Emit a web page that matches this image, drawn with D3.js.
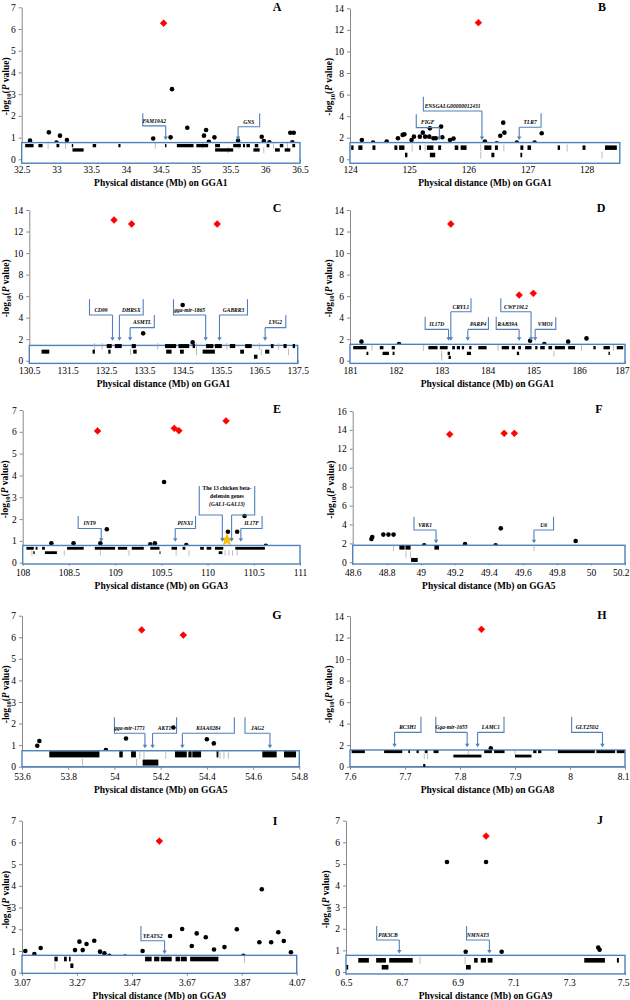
<!DOCTYPE html>
<html><head><meta charset="utf-8">
<script src="https://cdn.jsdelivr.net/npm/d3@7"></script>
<style>body{margin:0;background:#fff}</style>
</head><body>
<svg id="c" width="630" height="1000"></svg>
<script>
// ---------- DATA ----------
const yT7 = [0,1,2,3,4,5,6,7];
const yT14 = [0,2,4,6,8,10,12,14];
const yT16 = [0,2,4,6,8,10,12,14,16];

// Panel A (GGA1)
const aXT = ['32.5','33','33.5','34','34.5','35','35.5','36','36.5'];
const aRed = [[34.54,6.27]];
const aPts = [[32.62,0.86],[32.89,1.24],[33.05,1.09],[33.15,0.89],[33.0,0.77],[34.39,0.96],[34.66,3.23],[34.64,1.01],[34.88,1.45],[35.12,1.09],[35.15,1.35],[35.19,0.81],[35.27,1.01],[35.61,0.86],[35.95,1.04],[35.98,0.84],[36.06,0.78],[36.36,1.22],[36.41,1.22],[36.39,0.78]];
const aBlocks = [[0,32.55,32.67],[0,32.74,32.80],[0,33.00,33.04],[0,33.22,33.24],[0,33.52,33.57],[0,33.89,33.92],[0,34.56,34.58],[0,34.73,34.97],[0,35.01,35.18],[0,35.28,35.35],[0,35.54,35.65],[0,35.68,35.71],[0,35.73,35.78],[0,35.85,35.90],[0,36.02,36.06],[0,36.21,36.26],[0,36.39,36.43],
  [1,33.23,33.39],[1,35.28,35.54],[1,35.83,35.92],[1,36.14,36.21],[1,36.28,36.36]];
const aThin = [[0,32.88],[0,33.13],[0,34.42],[0,35.10],[1,35.47],[0,35.62],[0,36.12],[0,36.32],[1,35.98]];
const aGenes = [['FAM19A2',34.57,34.24,2.12,1.54,0.89],['GNS',35.61,35.92,2.12,1.50,0.89]];

// Panel B (GGA1)
const bXT = ['124','125','126','127','128'];
const bRed = [[126.17,12.67]];
const bPts = [[124.20,1.79],[124.39,1.55],[124.62,1.64],[124.81,1.95],[124.89,2.26],[124.92,2.32],[125.04,1.79],[125.08,2.10],[125.18,2.10],[125.23,2.47],[125.27,2.10],[125.34,2.10],[125.35,2.87],[125.41,1.95],[125.45,1.95],[125.54,3.03],[125.56,2.04],[125.69,1.79],[125.75,1.92],[126.28,1.64],[126.48,1.48],[126.54,2.19],[126.59,3.40],[126.61,2.47],[126.82,1.55],[127.12,1.55],[127.24,2.41]];
const bBlocks = [[0,124.02,124.06],[0,124.14,124.21],[0,124.38,124.43],[0,124.75,124.80],[0,124.83,124.92],[0,125.17,125.20],[0,125.30,125.41],[0,125.49,125.54],[0,125.77,125.83],[0,125.87,125.97],[0,126.27,126.39],[0,126.45,126.50],[0,126.88,126.93],[0,127.00,127.06],[0,127.51,127.55],[0,127.93,127.98],[0,128.31,128.51],
  [1,124.93,124.97],[1,125.35,125.44],[1,126.39,126.44],[1,126.88,126.91]];
const bThin = [[0,125.05],[0,125.27],[0,126.21],[1,126.21],[0,126.60],[0,127.67],[1,128.26]];
const bGenes = [['ENSGALG00000012431',126.23,125.24,5.81,4.48,1.79],['FIGF',125.51,125.12,4.17,2.94,1.79],['TLR7',126.86,127.23,4.26,2.97,1.79]];

// Panel C (GGA1)
const cXT = ['130.5','131.5','132.5','133.5','134.5','135.5','136.5','137.5'];
const cRed = [[132.71,13.07],[133.17,12.70],[135.40,12.70]];
const cPts = [[133.47,2.54],[134.50,5.17],[134.76,1.70]];
const cBlocks = [[0,132.52,132.65],[0,132.73,132.91],[0,133.17,133.28],[0,134.04,134.33],[0,134.39,134.67],[0,134.76,134.82],[0,135.11,135.30],[0,135.34,135.52],[0,135.73,135.87],[0,136.13,136.30],[0,136.80,136.87],[0,137.13,137.21],[0,137.37,137.43],
  [1,130.82,131.02],[1,132.15,132.21],[1,132.56,132.62],[1,133.21,133.30],[1,134.07,134.21],[1,134.43,134.53],[1,135.02,135.34],[1,136.00,136.10],[1,136.65,136.76],
  [2,136.36,136.45]];
const cThin = [[0,132.20],[0,132.40],[1,133.14],[0,133.85],[0,134.86],[1,134.86],[0,135.65],[0,136.50],[1,136.55],[0,137.00],[1,137.26]];
const cGenes = [['CD99',132.67,132.07,5.70,4.24,1.86],['DHRSX',132.85,133.47,5.70,4.24,1.86],['ASMTL',133.13,133.76,4.24,3.07,1.86],['gga-mir-1865',135.10,134.26,5.70,4.24,1.86],['GABRR3',135.46,136.19,5.70,4.24,1.86],['LYG2',136.65,137.19,4.24,3.07,1.86]];

// Panel D (GGA1)
const dXT = ['181','182','183','184','185','186','187'];
const dRed = [[183.20,12.70],[184.69,6.10],[185.00,6.26]];
const dPts = [[181.25,1.77],[182.07,1.55],[184.93,1.86],[185.24,1.55],[185.76,1.77],[186.16,2.07]];
const dBlocks = [[0,181.07,181.36],[0,181.65,181.73],[0,181.91,181.98],[0,182.71,182.91],[0,182.96,183.13],[0,183.23,183.29],[0,183.33,183.40],[0,183.44,183.49],[0,183.60,183.65],[0,183.80,183.98],[0,184.31,184.47],[0,184.53,184.60],[0,184.67,184.73],[0,184.82,184.96],[0,185.04,185.09],[0,185.15,185.25],[0,185.33,185.41],[0,185.47,185.69],[0,185.76,185.91],[0,186.31,186.36],[0,186.53,186.67],[0,186.82,186.96],
  [1,181.36,181.40],[1,181.71,181.85],[1,181.93,181.97],[1,183.13,183.18],[1,183.55,183.64],[1,184.64,184.69],[1,186.64,186.67],
  [2,183.15,183.20]];
const dThin = [[0,181.48],[0,182.60],[1,183.00],[2,183.00],[0,184.23],[1,185.45],[0,186.05],[0,186.75]];
const dGenes = [['IL17D',183.15,182.64,4.09,2.91,1.86],['CRYL1',183.20,183.64,5.79,4.55,1.86],['PARP4',183.57,184.02,4.03,2.91,1.86],['RAB39A',184.69,184.19,4.09,2.91,1.86],['CWF19L2',184.95,184.29,5.79,4.55,1.86],['VMO1',185.04,185.49,4.03,2.91,1.86]];

// Panel E (GGA3)
const eXT = ['108','108.5','109','109.5','110','110.5','111'];
const eRed = [[108.81,6.04],[109.64,6.16],[109.69,6.05],[110.20,6.50]];
const ePts = [[108.31,0.89],[108.55,0.89],[108.84,0.89],[108.91,1.53],[109.38,0.84],[109.43,0.89],[109.53,3.70],[109.77,0.81],[110.22,1.42],[110.32,1.42],[110.40,2.14],[110.63,0.78]];
const eStar = [[110.21,1.04]];
const eBlocks = [[0,108.04,108.12],[0,108.14,108.16],[0,108.21,108.24],[0,108.48,108.66],[0,108.78,109.00],[0,109.03,109.13],[0,109.18,109.31],[0,109.38,109.48],[0,109.61,109.67],[0,109.73,109.76],[0,109.92,109.96],[0,109.99,110.04],[0,110.08,110.17],[0,110.30,110.62],
  [1,108.24,108.37],[1,108.115,108.13],[1,109.48,109.49],[1,110.12,110.16]];
const eThin = [[1,108.10],[1,108.45],[1,108.84],[1,109.15],[1,109.66],[1,109.80],[1,110.19],[1,110.23],[1,110.27],[1,110.32]];
const eGenes = [['INT9',108.85,108.60,2.14,1.57,0.96],['PINX1',109.65,109.87,2.14,1.57,0.96],
  ['The 13 chicken beta-|defensin genes|(GAL1-GAL13)',110.16,109.91,3.52,2.19,0.96,110.21],['',110.26,110.51,3.52,2.19,0.96],
  ['IL17F',110.36,110.59,2.14,1.57,0.96]];

// Panel F (GGA5)
const fXT = ['48.6','48.8','49','49.2','49.4','49.6','49.8','50','50.2'];
const fRed = [[49.17,13.53],[49.49,13.64],[49.55,13.64]];
const fPts = [[48.71,2.47],[48.715,2.68],[48.78,2.93],[48.81,2.93],[48.84,2.93],[49.02,1.80],[49.26,1.94],[49.44,1.80],[49.47,3.59],[49.91,2.26]];
const fBlocks = [[0,48.874,48.905],[0,48.91,48.94],[0,49.08,49.107],[2,48.943,48.982]];
const fThin = [[0,48.84],[1,48.913],[1,48.94],[0,49.665]];
const fGenes = [['VRK1',49.09,48.96,4.83,3.42,2.01],['U6',49.665,49.78,4.83,3.42,2.01]];

// Panel G (GGA5)
const gXT = ['53.6','53.8','54','54.2','54.4','54.6','54.8'];
const gRed = [[54.118,6.34],[54.298,6.10]];
const gPts = [[53.666,0.97],[53.675,1.19],[53.963,0.77],[54.05,1.31],[54.255,1.82],[54.40,1.27],[54.43,1.08]];
const gBlocks = [[0,53.718,53.935],[0,54.021,54.036],[0,54.072,54.093],[0,54.262,54.313],[0,54.320,54.334],[0,54.337,54.375],[0,54.442,54.450],[0,54.640,54.702],[0,54.734,54.786],
  [1,54.122,54.19]];
const gThin = [[1,53.862],[1,54.096],[0,54.11],[0,54.128],[0,54.222],[0,54.457],[0,54.474],[0,54.493]];
const gGenes = [['gga-mir-1771',54.132,54.0,2.29,1.55,0.85],['AKT1',54.165,54.269,2.29,1.55,0.85],['KIAA0284',54.294,54.519,2.29,1.55,0.85],['JAG2',54.673,54.565,2.29,1.55,0.85]];

// Panel H (GGA8)
const hXT = ['7.6','7.7','7.8','7.9','8','8.1'];
const hRed = [[7.839,12.76]];
const hPts = [[7.856,1.70]];
const hBlocks = [[0,7.603,7.627],[0,7.662,7.695],[0,7.706,7.709],[0,7.721,7.725],[0,7.736,7.741],[0,7.752,7.761],[0,7.844,7.858],[0,7.862,7.881],[0,7.933,7.939],[0,7.942,7.948],[0,7.978,8.045],[0,8.048,8.082],[0,8.085,8.099],
  [1,7.788,7.839],[1,7.900,7.930],[2,7.733,7.737]];
const hThin = [[1,7.735],[0,7.815],[1,7.741],[0,7.90]];
const hGenes = [['RC3H1',7.681,7.729,4.65,3.19,1.80],['Gga-mir-1655',7.813,7.756,4.65,3.19,1.80],['LAMC1',7.832,7.880,4.65,3.19,1.80],['GLT25D2',8.059,8.003,4.65,3.19,1.80]];

// Panel I (GGA9)
const iXT = ['3.07','3.27','3.47','3.67','3.87','4.07'];
const iRed = [[3.57,6.06]];
const iPts = [[3.082,1.0],[3.115,0.86],[3.138,1.14],[3.263,1.04],[3.279,1.43],[3.291,1.04],[3.305,1.32],[3.333,1.47],[3.354,0.97],[3.370,0.89],[3.388,0.78],[3.445,0.74],[3.509,1.0],[3.609,1.69],[3.653,2.01],[3.688,1.23],[3.706,1.81],[3.739,1.63],[3.769,1.07],[3.807,1.18],[3.852,2.0],[3.876,0.78],[3.934,1.40],[3.943,3.84],[3.977,1.40],[4.003,1.86],[4.023,1.46],[4.049,0.94]];
const iBlocks = [[0,3.188,3.200],[0,3.223,3.233],[0,3.241,3.247],[0,3.518,3.542],[0,3.551,3.570],[0,3.575,3.615],[0,3.629,3.645],[0,3.648,3.670],[0,3.682,3.785],
  [1,3.246,3.257]];
const iThin = [[1,3.19],[0,3.88]];
const iGenes = [['YEATS2',3.589,3.503,2.15,1.47,0.86]];

// Panel J (GGA9)
const jXT = ['6.5','6.7','6.9','7.1','7.3','7.5'];
const jRed = [[7.002,6.29]];
const jPts = [[6.862,5.09],[7.002,5.09],[6.929,0.94],[7.058,0.94],[7.404,1.13],[7.409,1.03]];
const jBlocks = [[0,6.544,6.582],[0,6.608,6.643],[0,6.655,6.739],[0,6.959,6.972],[0,6.983,7.002],[0,7.008,7.025],[0,7.354,7.428],[0,7.471,7.478],
  [1,6.502,6.508],[1,6.628,6.652],[1,6.930,6.947]];
const jThin = [[0,6.765],[0,6.927]];
const jGenes = [['PIK3CB',6.691,6.610,2.13,1.48,0.86],['NMNAT3',7.014,6.932,2.13,1.48,0.86]];

// ---------- LAYOUT CONFIG ----------
const panels = [
 {L:'A',xt:aXT,yt:yT7, red:aRed,pts:aPts,blocks:aBlocks,thin:aThin,genes:aGenes,chr:'GGA1',xdom:[32.5,36.5],px:[21.7,300],py:[159.3,7.3],box:[0.77,-0.18],rows:[0.63,0.43],bh:3.3,lx:277,ly:11,yl:8.5},
 {L:'B',xt:bXT,yt:yT14,red:bRed,pts:bPts,blocks:bBlocks,thin:bThin,genes:bGenes,chr:'GGA1',xdom:[124,128.56],px:[350,619.8],py:[159.3,8.3],box:[1.55,-0.37],rows:[1.08,0.40],bh:4.5,lx:602,ly:11,yl:332},
 {L:'C',xt:cXT,yt:yT14,red:cRed,pts:cPts,blocks:cBlocks,thin:cThin,genes:cGenes,chr:'GGA1',xdom:[130.5,137.5],px:[29.3,297.7],py:[360.7,210],box:[1.42,-0.25],rows:[1.36,0.84,0.37],bh:4,lx:277,ly:211.5,yl:8.5},
 {L:'D',xt:dXT,yt:yT14,red:dRed,pts:dPts,blocks:dBlocks,thin:dThin,genes:dGenes,chr:'GGA1',xdom:[181,187],px:[350,625],py:[360.7,210],box:[1.52,-0.25],rows:[1.21,0.68,0.31],bh:3.3,lx:601,ly:211.5,yl:331.5},
 {L:'E',xt:eXT,yt:yT7, red:eRed,pts:ePts,blocks:eBlocks,thin:eThin,genes:eGenes,star:eStar,chr:'GGA3',xdom:[108,111],px:[22.7,300],py:[562.7,410],box:[0.79,-0.06],rows:[0.66,0.46],bh:2.8,lx:277,ly:413,yl:7.5},
 {L:'F',xt:fXT,yt:yT16,red:fRed,pts:fPts,blocks:fBlocks,thin:fThin,genes:fGenes,chr:'GGA5',xdom:[48.6,50.2],px:[352.7,625],py:[562.3,411],box:[1.80,-0.18],rows:[1.55,0.85,0.25],bh:4,lx:599,ly:413,yl:333.5},
 {L:'G',xt:gXT,yt:yT7, red:gRed,pts:gPts,blocks:gBlocks,thin:gThin,genes:gGenes,chr:'GGA5',xdom:[53.6,54.8],px:[22,299.3],py:[766.7,615.7],box:[0.74,0],rows:[0.57,0.19],bh:6,lx:277,ly:619,yl:8.5},
 {L:'H',xt:hXT,yt:yT14,red:hRed,pts:hPts,blocks:hBlocks,thin:hThin,genes:hGenes,chr:'GGA8',xdom:[7.6,8.1],px:[350,625],py:[766.7,616],box:[1.55,0],rows:[1.39,0.99,0.12],bh:2.8,lx:602,ly:619,yl:331.5},
 {L:'I',xt:iXT,yt:yT7, red:iRed,pts:iPts,blocks:iBlocks,thin:iThin,genes:iGenes,chr:'GGA9',xdom:[3.07,4.07],px:[22,296.7],py:[972.7,820.7],box:[0.80,-0.03],rows:[0.63,0.32],bh:4.6,lx:275,ly:825,yl:8.5},
 {L:'J',xt:jXT,yt:yT7, red:jRed,pts:jPts,blocks:jBlocks,thin:jThin,genes:jGenes,chr:'GGA9',xdom:[6.5,7.5],px:[346,625],py:[972,820.7],box:[0.77,-0.09],rows:[0.54,0.22],bh:4.6,lx:600,ly:824,yl:328.5}
];

const FONT = '"Liberation Serif","Times New Roman",serif';
const BLUE = '#4f81bd';
const svg = d3.select('#c');
svg.append('rect').attr('width',630).attr('height',1000).attr('fill','#fff');

panels.forEach(p => {
  const g = svg.append('g');
  const x = d3.scaleLinear().domain(p.xdom).range(p.px);
  const ymax = p.yt[p.yt.length-1];
  const y = d3.scaleLinear().domain([0,ymax]).range(p.py);

  // y axis
  const ya = g.append('g').attr('transform',`translate(${p.px[0]},0)`)
    .call(d3.axisLeft(y).tickValues(p.yt).tickFormat(d3.format('d')).tickSize(3).tickSizeOuter(0).tickPadding(3));
  ya.select('.domain').attr('stroke','#8a8a8a');
  ya.selectAll('.tick line').attr('stroke','#8a8a8a');
  ya.selectAll('text').attr('font-family',FONT).attr('font-size',9.5).attr('fill','#000');

  // x axis
  const xv = p.xt.map(Number);
  const xa = g.append('g').attr('transform',`translate(0,${y(0)})`)
    .call(d3.axisBottom(x).tickValues(xv).tickFormat((d,i)=>p.xt[i]).tickSize(3).tickSizeOuter(0).tickPadding(4));
  xa.select('.domain').attr('stroke','#8a8a8a');
  xa.selectAll('.tick line').attr('stroke','#8a8a8a');
  xa.selectAll('text').attr('font-family',FONT).attr('font-size',9.5).attr('fill','#000');
  // keep tick labels inside the page
  xa.selectAll('.tick').each(function(d){
    const t = d3.select(this).select('text');
    const w = t.node().getComputedTextLength();
    const tx = x(d);
    if (tx + w/2 > 629) t.attr('x', 629 - w/2 - tx);
  });

  // x title
  g.append('text').attr('x',(p.px[0]+p.px[1])/2).attr('y',y(0)+26.5)
    .attr('text-anchor','middle').attr('font-family',FONT).attr('font-weight','bold').attr('font-size',9.5)
    .text('Physical distance (Mb) on '+p.chr);

  // y title
  const ym = (p.py[0]+p.py[1])/2 + 3;
  const yt = g.append('text').attr('transform',`translate(${p.yl},${ym}) rotate(-90)`)
    .attr('text-anchor','middle').attr('font-family',FONT).attr('font-weight','bold').attr('font-size',9.5);
  yt.append('tspan').text('-log');
  yt.append('tspan').attr('font-size',6.5).attr('dy',2.5).text('10');
  yt.append('tspan').attr('dy',-2.5).text('(');
  yt.append('tspan').attr('font-style','italic').text('P');
  yt.append('tspan').text(' value)');

  // black points
  g.append('g').selectAll('circle').data(p.pts).join('circle')
    .attr('cx',d=>x(d[0])).attr('cy',d=>y(d[1])).attr('r',2.3).attr('fill','#000');

  // red diamonds
  g.append('g').selectAll('path').data(p.red).join('path')
    .attr('d',d=>{const cx=x(d[0]),cy=y(d[1]),r=3.4;return `M${cx},${cy-r}L${cx+r},${cy}L${cx},${cy+r}L${cx-r},${cy}Z`;})
    .attr('fill','#ff0000').attr('stroke','#ff0000').attr('stroke-width',0.6).attr('stroke-linejoin','round');

  // gene box
  const bt = y(p.box[0]), bb = y(p.box[1]);
  g.append('rect').attr('x',p.px[0]).attr('y',bt).attr('width',p.px[1]-p.px[0]).attr('height',bb-bt)
    .attr('fill','#fff').attr('stroke',BLUE).attr('stroke-width',1.4);

  // thin gene marks
  g.append('g').selectAll('line').data(p.thin).join('line')
    .attr('x1',d=>x(d[1])).attr('x2',d=>x(d[1]))
    .attr('y1',d=>y(p.rows[d[0]])-p.bh/2-1).attr('y2',d=>y(p.rows[d[0]])+p.bh/2+1.5)
    .attr('stroke','#a0a0a0').attr('stroke-width',0.7);

  // gene blocks
  g.append('g').selectAll('rect').data(p.blocks).join('rect')
    .attr('x',d=>x(d[1])).attr('width',d=>Math.max(1,x(d[2])-x(d[1])))
    .attr('y',d=>y(p.rows[d[0]])-p.bh/2).attr('height',p.bh).attr('fill','#000');

  // star
  if (p.star) {
    g.append('g').selectAll('path').data(p.star).join('path')
      .attr('transform',d=>`translate(${x(d[0])},${y(d[1])})`)
      .attr('d',d3.symbol().type(d3.symbolStar).size(48))
      .attr('fill','#ffc000').attr('stroke','#e6a800').attr('stroke-width',0.4);
  }

  // callouts
  p.genes.forEach(c => {
    const [name, ax, arm, top, ln, end, labX] = c;
    const X = x(ax), A = x(arm), T = y(top), Ly = y(ln), E = y(end);
    g.append('path').attr('d',`M${A},${T}V${Ly}H${X}`).attr('fill','none').attr('stroke',BLUE).attr('stroke-width',1.1);
    g.append('line').attr('x1',X).attr('x2',X).attr('y1',Ly).attr('y2',E-3).attr('stroke',BLUE).attr('stroke-width',1.1);
    g.append('path').attr('d',`M${X-2.2},${E-3.5}L${X+2.2},${E-3.5}L${X},${E}Z`).attr('fill',BLUE);
    if (name) {
      const lines = name.split('|');
      const cx = labX !== undefined ? x(labX) : (A+X)/2;
      lines.forEach((t,i) => {
        const yy = lines.length>1 ? T+4+i*8 : Ly-3.2;
        g.append('text').attr('x',cx).attr('y',yy).attr('text-anchor','middle')
          .attr('font-family',FONT).attr('font-weight','bold').attr('font-size',5.5)
          .attr('font-style', t.includes(' ') ? 'normal' : 'italic')
          .text(t);
      });
    }
  });

  // panel letter
  g.append('text').attr('x',p.lx).attr('y',p.ly).attr('text-anchor','middle')
    .attr('font-family',FONT).attr('font-weight','bold').attr('font-size',12).text(p.L);
});
</script>
</body></html>
